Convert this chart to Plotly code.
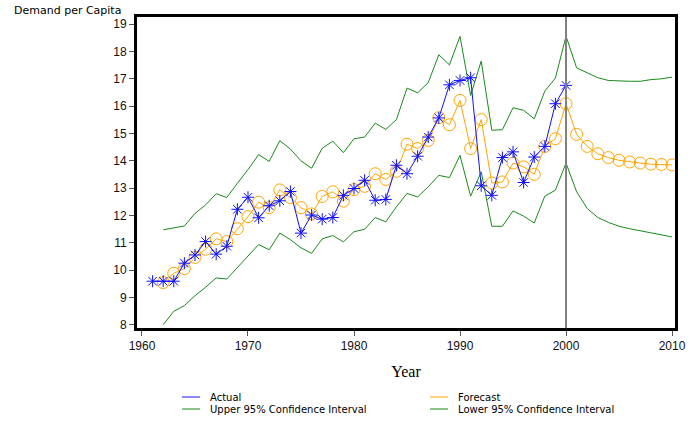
import plotly.graph_objects as go

# ---- data -------------------------------------------------------------
actual_years = list(range(1961, 2001))
actual = [9.60, 9.60, 9.60, 10.26, 10.56, 11.05, 10.59, 10.88, 12.23, 12.67,
          11.92, 12.36, 12.54, 12.88, 11.36, 12.02, 11.87, 11.93, 12.74, 12.99,
          13.29, 12.56, 12.59, 13.84, 13.53, 14.17, 14.87, 15.57, 16.78, 16.94,
          17.04, 13.09, 12.74, 14.12, 14.33, 13.21, 14.14, 14.53, 16.09, 16.76]

model_years = list(range(1962, 2011))
forecast = [9.55, 9.89, 10.06, 10.47, 10.77, 11.15, 11.05, 11.52, 11.96, 12.49,
            12.29, 12.94, 12.66, 12.29, 12.06, 12.70, 12.87, 12.53, 12.95, 13.07,
            13.53, 13.32, 13.62, 14.61, 14.45, 14.75, 15.58, 15.32, 16.21, 14.45,
            15.51, 13.19, 13.23, 13.92, 13.78, 13.51, 14.53, 14.81, 16.09, 14.97,
            14.53, 14.26, 14.12, 14.02, 13.96, 13.92, 13.88, 13.87, 13.85]
upper_ci = [11.48, 11.54, 11.62, 12.08, 12.39, 12.80, 12.66, 13.18, 13.68, 14.23,
            13.98, 14.74, 14.43, 14.00, 13.73, 14.46, 14.72, 14.30, 14.81, 14.87,
            15.38, 15.15, 15.51, 16.66, 16.49, 16.86, 17.88, 17.51, 18.55, 16.39,
            17.65, 15.12, 15.14, 15.94, 15.85, 15.54, 16.55, 17.03, 18.56, 17.40,
            17.21, 17.04, 16.94, 16.92, 16.91, 16.91, 16.97, 17.00, 17.06]
lower_ci = [8.01, 8.50, 8.71, 9.07, 9.38, 9.72, 9.68, 10.10, 10.53, 10.94,
            10.75, 11.36, 11.12, 10.82, 10.62, 11.15, 11.27, 11.04, 11.41, 11.50,
            11.93, 11.77, 12.32, 12.81, 12.68, 13.05, 13.47, 13.39, 14.20, 12.71,
            13.60, 11.61, 11.61, 12.17, 11.98, 11.73, 12.71, 12.93, 13.92, 12.87,
            12.26, 11.93, 11.75, 11.61, 11.52, 11.44, 11.37, 11.28, 11.22]

x_ticks = [1960, 1970, 1980, 1990, 2000, 2010]
y_ticks = list(range(8, 20))
forecast_origin = 2000

BLUE = "#1010ff"
ORANGE = "#ffa500"
GREEN = "#1a8a1a"
FONT = "Liberation Sans, Arial, sans-serif"
WIDE_FONT = "DejaVu Sans, Verdana, sans-serif"

fig = go.Figure()

fig.add_trace(go.Scatter(x=model_years, y=upper_ci, mode="lines",
                         line=dict(color=GREEN, width=1),
                         name="Upper 95% Confidence Interval"))
fig.add_trace(go.Scatter(x=model_years, y=lower_ci, mode="lines",
                         line=dict(color=GREEN, width=1),
                         name="Lower 95% Confidence Interval"))
fig.add_trace(go.Scatter(x=model_years, y=forecast, mode="lines+markers",
                         line=dict(color=ORANGE, width=1),
                         marker=dict(symbol="circle-open", size=12,
                                     color=ORANGE, line=dict(width=1, color=ORANGE)),
                         name="Forecast"))
fig.add_trace(go.Scatter(x=actual_years, y=actual, mode="lines+markers",
                         line=dict(color=BLUE, width=1),
                         marker=dict(symbol="asterisk-open", size=10,
                                     color=BLUE, line=dict(width=1, color=BLUE)),
                         name="Actual"))

# vertical reference line at the forecast origin
fig.add_shape(type="line", xref="x", yref="paper", x0=forecast_origin,
              x1=forecast_origin, y0=0, y1=1,
              line=dict(color="#808080", width=2))

# ---- layout geometry (pixels) -----------------------------------------
W, H = 698, 423
L, R, T, B = 137, 23, 17, 95
PW, PH = W - L - R, H - T - B


def px(xp):
    return (xp - L) / PW


def py(yp):
    return (H - B - yp) / PH


# y-axis title placed above the axis, horizontal
fig.add_annotation(text="Demand per Capita", xref="paper", yref="paper",
                   x=px(12), y=py(11), xanchor="left", yanchor="middle",
                   showarrow=False,
                   font=dict(family=WIDE_FONT, size=11, color="black"))

# legend drawn as two columns below the axis
legend_items = [
    ("Actual", BLUE, 182, 397),
    ("Forecast", ORANGE, 430, 397),
    ("Upper 95% Confidence Interval", GREEN, 182, 409),
    ("Lower 95% Confidence Interval", GREEN, 430, 409),
]
for label, color, x0, yrow in legend_items:
    fig.add_shape(type="line", xref="paper", yref="paper",
                  x0=px(x0), x1=px(x0 + 18), y0=py(yrow), y1=py(yrow),
                  line=dict(color=color, width=1))
    fig.add_annotation(text=label, xref="paper", yref="paper",
                       x=px(x0 + 26), y=py(yrow), xanchor="left", yanchor="middle",
                       showarrow=False,
                       font=dict(family=WIDE_FONT, size=10, color="black"))

axis_common = dict(showgrid=False, zeroline=False, showline=True,
                   linecolor="black", linewidth=3, mirror=True,
                   ticks="outside", ticklen=5, tickwidth=1, tickcolor="#555555",
                   tickfont=dict(family=FONT, size=12, color="#111111"))

fig.update_layout(
    width=W, height=H,
    margin=dict(l=L, r=R, t=T, b=B),
    paper_bgcolor="white", plot_bgcolor="white",
    showlegend=False,
    xaxis=dict(range=[1959.53, 2010.28], tickmode="array", tickvals=x_ticks,
               ticktext=[str(v) for v in x_ticks],
               title=dict(text="Year", standoff=14,
                          font=dict(family="Liberation Serif, Times New Roman, serif",
                                    size=16, color="black")),
               **axis_common),
    yaxis=dict(range=[7.89, 19.26], tickmode="array", tickvals=y_ticks,
               ticktext=[str(v) for v in y_ticks],
               **axis_common),
)

fig.write_html("out.html")
